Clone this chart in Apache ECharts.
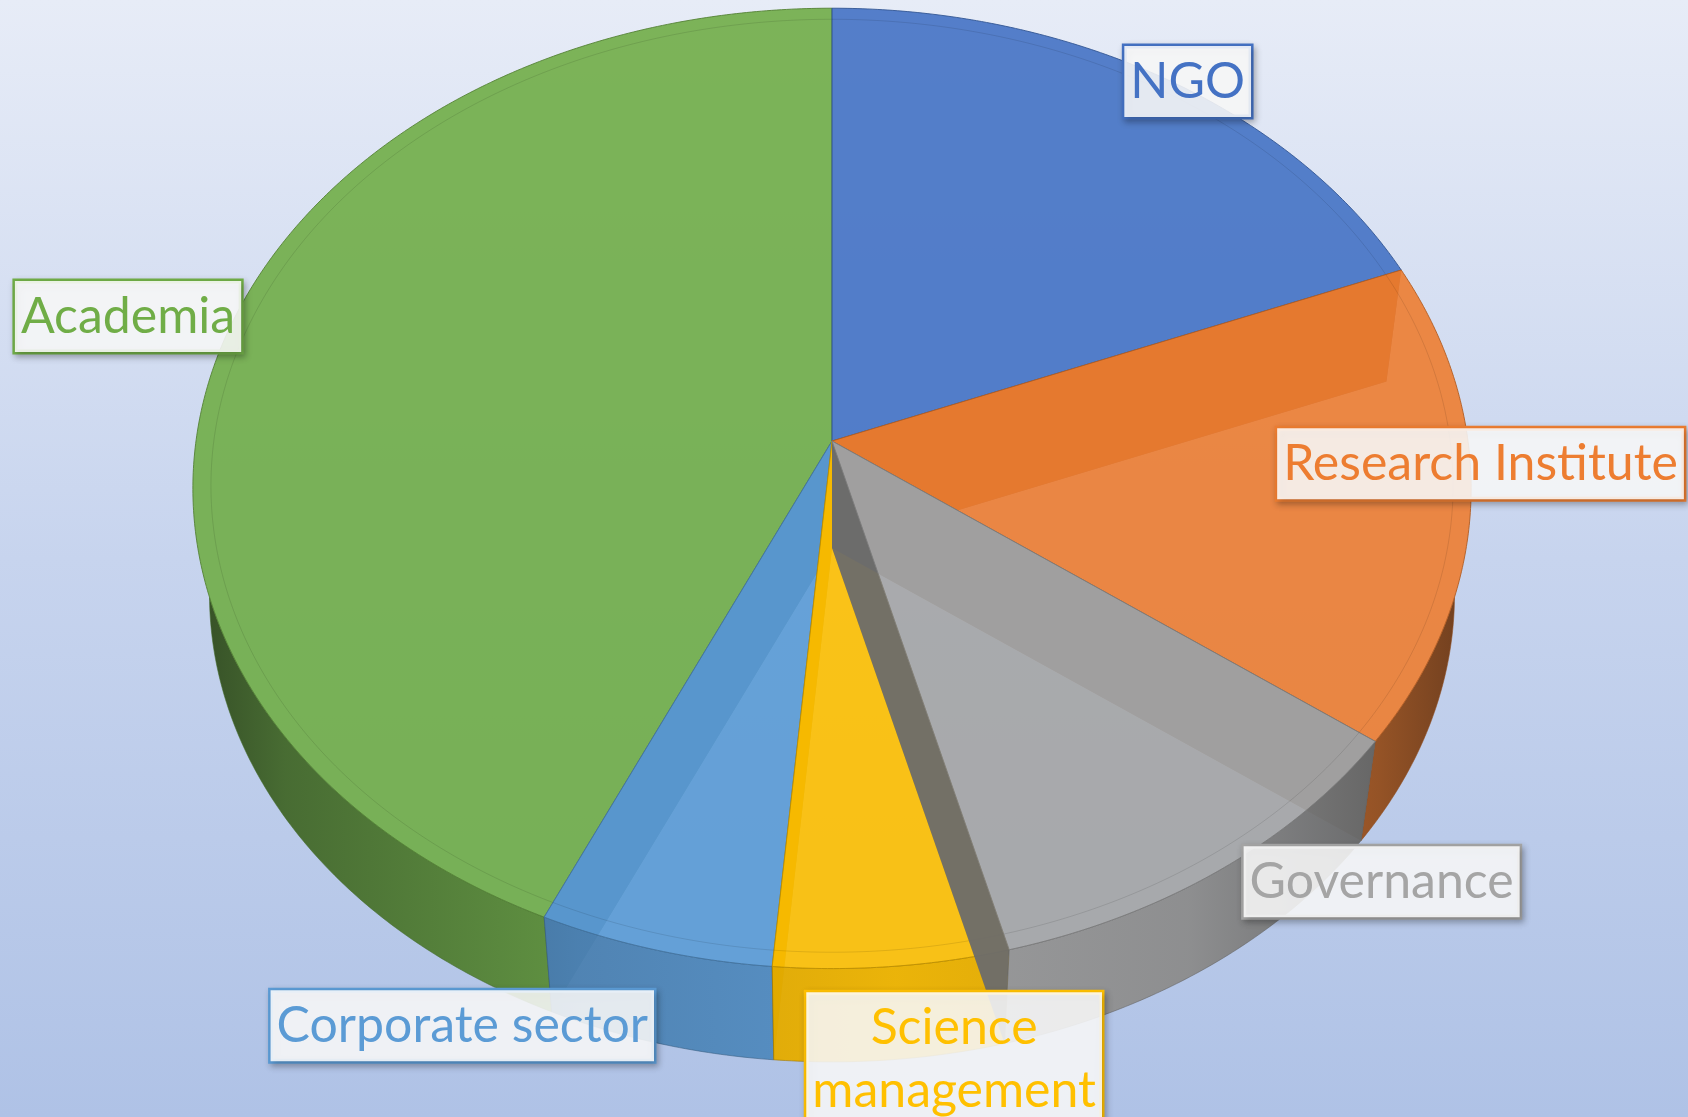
<!DOCTYPE html>
<html>
<head>
<meta charset="utf-8">
<script src="https://cdn.jsdelivr.net/npm/echarts@6.0.0/dist/echarts.min.js"></script>
<style>
  html, body { margin: 0; padding: 0; }
  #chart { width: 1688px; height: 1117px; }
</style>
</head>
<body>
<div id="chart"></div>
<script>
// slices, clockwise from 12 o'clock
const categories = ["NGO", "Research Institute", "Governance", "Science\nmanagement", "Corporate sector", "Academia"];
const values = [7, 6, 4, 2, 2, 16];
const colors = ["#4472C4", "#ED7D31", "#A5A5A5", "#FFC000", "#5B9BD5", "#70AD47"];

// where each label box sits: angle (deg from top, clockwise) and radius factor
const labelAngle = [36.5, 92.7, 137.0, 171.6, 205.3, 283.3];
const labelRadius = [1.016, 1.016, 1.161, 1.165, 1.213, 1.1675];

// painter order (Excel draws the governance wall over science)
const drawOrder = [5, 0, 1, 4, 3, 2];

// 3d pie geometry, tilted disc seen in perspective
const CX = 832, CY = 441;
const AX = 636, BY = 475.5, PERSP = 0.0987;
const DEPTH = 107;      // drop of the bottom disc
const BOTTOM_K = 0.974; // bottom disc is farther away, so a bit smaller

const total = values.reduce((a, b) => a + b, 0);
const startAngles = [];
const endAngles = [];
let acc = 0;
values.forEach(v => {
  startAngles.push(acc / total * 360);
  acc += v;
  endAngles.push(acc / total * 360);
});

function pt(theta, r, bottom) {
  const a = theta * Math.PI / 180;
  const u = r * Math.sin(a);
  const v = -r * Math.cos(a);
  const w = 1 - PERSP * v;
  const k = bottom ? BOTTOM_K : 1;
  return [CX + k * AX * u / w, CY + (bottom ? DEPTH : 0) + k * BY * v / w];
}

// screen point back onto the top disc
function toDisc(p) {
  const X = p[0] - CX, Y = p[1] - CY;
  const v = Y / (BY + PERSP * Y);
  const u = X * (1 - PERSP * v) / AX;
  return [u, v];
}

function discAngle(p) {
  const d = toDisc(p);
  let t = Math.atan2(d[0], -d[1]) * 180 / Math.PI;
  return t < 0 ? t + 360 : t;
}

function arc(a1, a2, r, bottom) {
  const pts = [];
  const n = Math.max(2, Math.ceil((a2 - a1) / 0.5));
  for (let i = 0; i <= n; i++) {
    pts.push(pt(a1 + (a2 - a1) * i / n, r, bottom));
  }
  return pts;
}

// part of the bottom rim that sticks out below the top face
let SIDE_LO = 270, SIDE_HI = 90;
for (let t = 60; t <= 300; t += 0.1) {
  const d = toDisc(pt(t, 1, true));
  if (d[0] * d[0] + d[1] * d[1] > 1) {
    SIDE_LO = Math.min(SIDE_LO, t);
    SIDE_HI = Math.max(SIDE_HI, t);
  }
}
const TOP_LO = discAngle(pt(SIDE_LO, 1, true));
const TOP_HI = discAngle(pt(SIDE_HI, 1, true));

function shade(hex, f) {
  const n = parseInt(hex.slice(1), 16);
  const r = Math.round(((n >> 16) & 255) * f);
  const g = Math.round(((n >> 8) & 255) * f);
  const b = Math.round((n & 255) * f);
  return "rgb(" + r + "," + g + "," + b + ")";
}

function wallGradient(color) {
  return {
    type: "linear",
    x: CX - AX, y: 0, x2: CX + AX, y2: 0,
    global: true,
    colorStops: [
      { offset: 0, color: shade(color, 0.42) },
      { offset: 0.07, color: shade(color, 0.6) },
      { offset: 0.3, color: shade(color, 0.83) },
      { offset: 0.55, color: shade(color, 0.93) },
      { offset: 0.78, color: shade(color, 0.85) },
      { offset: 0.93, color: shade(color, 0.62) },
      { offset: 1, color: shade(color, 0.45) },
    ],
  };
}

function radialWall(theta) {
  return [[CX, CY], pt(theta, 1, false), pt(theta, 1, true), [CX, CY + DEPTH]];
}

function renderItem(params, api) {
  const i = params.dataIndex;
  const a1 = startAngles[i], a2 = endAngles[i];
  const color = colors[i];
  const base = drawOrder.indexOf(i) * 10;
  const children = [];

  children.push({
    type: "polygon", z2: base + 1,
    shape: { points: radialWall(a1) },
    style: { fill: shade(color, 0.65), opacity: 0.95 },
  });
  children.push({
    type: "polygon", z2: base + 1,
    shape: { points: radialWall(a2) },
    style: { fill: shade(color, 0.65), opacity: 0.95 },
  });

  // outer wall, only where it shows below the top face
  const bLo = Math.max(a1, SIDE_LO), bHi = Math.min(a2, SIDE_HI);
  if (bHi > bLo) {
    const tLo = a1 >= SIDE_LO ? a1 : TOP_LO;
    const tHi = a2 <= SIDE_HI ? a2 : TOP_HI;
    const pts = arc(tLo, tHi, 1, false).concat(arc(bLo, bHi, 1, true).reverse());
    children.push({
      type: "polygon", z2: base + 2,
      shape: { points: pts },
      style: { fill: wallGradient(color), stroke: shade(color, 0.6), lineWidth: 0.6, opacity: 0.96 },
    });
  }

  children.push({
    type: "polygon", z2: base + 3,
    shape: { points: [[CX, CY]].concat(arc(a1, a2, 1, false)) },
    style: { fill: color, opacity: 0.9, stroke: shade(color, 0.75), lineWidth: 1 },
  });
  children.push({
    type: "polyline", z2: base + 4,
    shape: { points: arc(a1, a2, 0.972, false) },
    style: { fill: null, stroke: "rgba(0,0,0,0.1)", lineWidth: 1 },
  });

  const lp = pt(labelAngle[i], labelRadius[i], false);
  children.push({
    type: "text", z2: 200,
    x: lp[0], y: lp[1],
    style: {
      text: categories[i],
      fill: color,
      fontFamily: "Lato",
      fontSize: 50,
      lineHeight: 63,
      align: "center",
      verticalAlign: "middle",
      backgroundColor: "rgba(255,255,255,0.86)",
      borderColor: color,
      borderWidth: 2.5,
      padding: [4, 6, 4, 6],
      shadowBlur: 6,
      shadowColor: "rgba(0,0,0,0.25)",
      shadowOffsetX: 2,
      shadowOffsetY: 3,
    },
  });

  return { type: "group", children: children };
}

const options = {
  animation: false,
  backgroundColor: {
    type: "linear", x: 0, y: 0, x2: 0, y2: 1,
    colorStops: [
      { offset: 0, color: "#e7ecf7" },
      { offset: 0.5, color: "#c7d4ee" },
      { offset: 1, color: "#afc2e6" },
    ],
  },
  series: [
    {
      type: "custom",
      coordinateSystem: "none",
      renderItem: renderItem,
      data: values,
    },
  ],
};

const chart = echarts.init(document.getElementById("chart"));
chart.setOption(options);
</script>
</body>
</html>
